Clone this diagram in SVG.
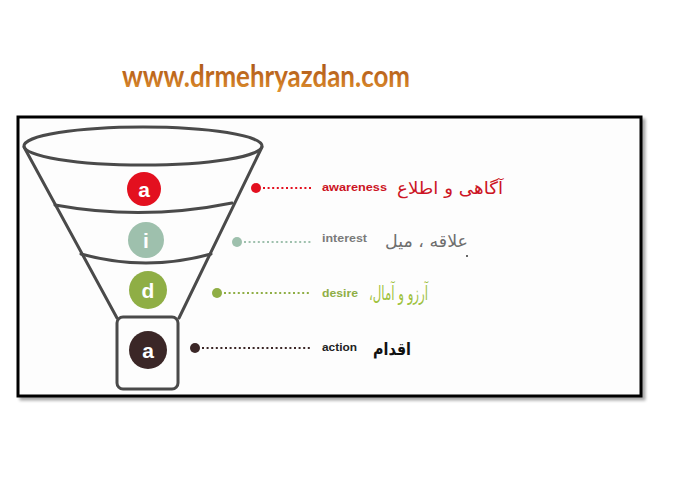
<svg xmlns="http://www.w3.org/2000/svg" width="681" height="480" viewBox="0 0 681 480">
<defs>
<linearGradient id="urlg" x1="0" y1="0" x2="0" y2="1">
<stop offset="0" stop-color="#a5531b"/>
<stop offset="0.55" stop-color="#c26c1f"/>
<stop offset="1" stop-color="#e39632"/>
</linearGradient>
<filter id="sh" x="-5%" y="-5%" width="110%" height="115%">
<feGaussianBlur in="SourceAlpha" stdDeviation="1.5"/>
<feOffset dx="3" dy="3"/>
<feComponentTransfer><feFuncA type="linear" slope="0.35"/></feComponentTransfer>
<feMerge><feMergeNode/><feMergeNode in="SourceGraphic"/></feMerge>
</filter>
</defs>
<style>
.fun{fill:none;stroke:#4a4a4a;stroke-width:3;stroke-linecap:round;stroke-linejoin:round}
.let{font-family:"Liberation Sans",Arial,sans-serif;font-weight:bold;font-size:21px;fill:#fff;text-anchor:middle}
.en{font-family:"Liberation Sans",Arial,sans-serif;font-weight:bold;font-size:11px}
.fa{font-family:"DejaVu Sans","Noto Sans",sans-serif;font-size:17px;direction:rtl;text-anchor:start}
.dl{stroke-width:2;stroke-dasharray:2 2.6;fill:none}
</style>
<rect width="681" height="480" fill="#fff"/>
<text x="122" y="87" font-family="Lato,'Open Sans',sans-serif" font-weight="bold" font-size="30" fill="url(#urlg)" textLength="288" lengthAdjust="spacingAndGlyphs">www.drmehryazdan.com</text>
<g id="frame">
<rect x="18" y="117" width="623" height="279" fill="#fdfdfd" stroke="#000" stroke-width="3" filter="url(#sh)"/>
</g>
<g id="funnel">
<ellipse class="fun" cx="143" cy="146" rx="119" ry="19"/>
<path class="fun" d="M24 147 L117 318"/>
<path class="fun" d="M262 147 L179 318"/>
<path class="fun" d="M55 205 Q143 221 232 203"/>
<path class="fun" d="M81 254 Q146 272 211 254"/>
<rect class="fun" x="117" y="317" width="61" height="72" rx="6"/>
</g>
<g id="awareness">
<circle cx="144" cy="189" r="17" fill="#e3101f"/>
<text class="let" x="144" y="196.5">a</text>
<circle cx="256" cy="188" r="5" fill="#e3101f"/>
<text class="en" x="322" y="191" fill="#cc1424" textLength="65" lengthAdjust="spacingAndGlyphs">awareness</text>
<text class="fa" x="503" y="194" fill="#cc1424" textLength="106" lengthAdjust="spacingAndGlyphs">آگاهی و اطلاع</text>
</g>
<g id="interest">
<circle cx="146" cy="240" r="18" fill="#9ec0ad"/>
<text class="let" x="146" y="247.5">i</text>
<circle cx="237" cy="242" r="5" fill="#9ec0ad"/>
<text class="en" x="322" y="242" fill="#7a7a7a" textLength="45" lengthAdjust="spacingAndGlyphs">interest</text>
<text class="fa" x="468" y="247" fill="#6e6e6e" textLength="83" lengthAdjust="spacingAndGlyphs">علاقه ، میل</text>
<circle cx="467" cy="256" r="1" fill="#333"/>
</g>
<g id="desire">
<circle cx="148" cy="290" r="19" fill="#8fae45"/>
<text class="let" x="148" y="297.5">d</text>
<circle cx="217" cy="293" r="5" fill="#8fae45"/>
<text class="en" x="322" y="297" fill="#8fae45" textLength="36" lengthAdjust="spacingAndGlyphs">desire</text>
<text class="fa" x="428" y="300" fill="#9fc23e" style="font-size:20px" textLength="59" lengthAdjust="spacingAndGlyphs">آرزو و آمال،</text>
</g>
<g id="action">
<circle cx="148" cy="350" r="19" fill="#3b2727"/>
<text class="let" x="148" y="357.5">a</text>
<circle cx="195" cy="348" r="5" fill="#3b2727"/>
<text class="en" x="322" y="351" fill="#222" textLength="35" lengthAdjust="spacingAndGlyphs">action</text>
<text class="fa" x="411" y="355" fill="#111" font-weight="bold" textLength="38" lengthAdjust="spacingAndGlyphs">اقدام</text>
</g>
<g id="connectors">
<line class="dl" x1="263" y1="188" x2="312" y2="188" stroke="#e3101f"/>
<line class="dl" x1="244" y1="242" x2="311" y2="242" stroke="#9ec0ad"/>
<line class="dl" x1="224" y1="293" x2="311" y2="293" stroke="#8fae45"/>
<line class="dl" x1="202" y1="348" x2="311" y2="348" stroke="#3b2727"/>
</g>
</svg>
